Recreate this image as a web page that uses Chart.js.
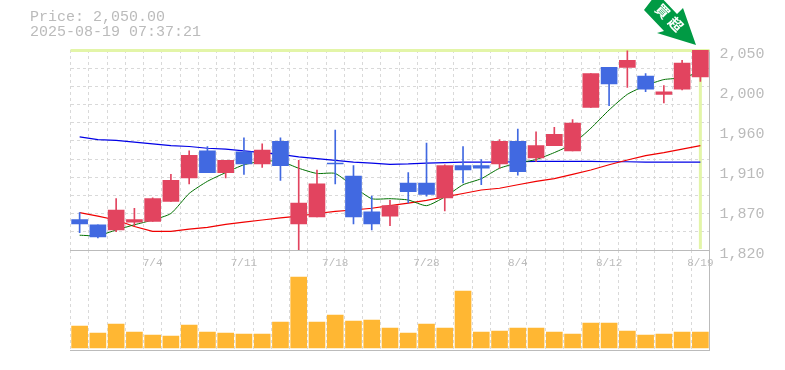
<!DOCTYPE html>
<html>
<head>
<meta charset="utf-8">
<title>Price chart</title>
<script src="https://cdn.jsdelivr.net/npm/chart.js@4"></script>
<style>
  html, body { margin: 0; padding: 0; background: #fff; overflow: hidden; }
  #wrap { position: relative; width: 785px; height: 370px; }
  canvas { position: absolute; left: 0; top: 0; }
  .head { position: absolute; left: 30px; color: #bbb; font: 15px "Liberation Mono", monospace; line-height: 15px; white-space: pre; }
  #arrow { position: absolute; left: 0; top: 0; }
</style>
</head>
<body>
<div id="wrap">
  <canvas id="volChart" width="785" height="370"></canvas>
  <canvas id="priceChart" width="785" height="370"></canvas>
  <div class="head" style="top:10px">Price: 2,050.00</div>
  <div class="head" style="top:25px">2025-08-19 07:37:21</div>
  <svg id="arrow" width="785" height="60">
    <polygon points="644,10 657,-7 677,14 683,8 696,45 657,33 664,31" fill="#009a44"></polygon>
    <text transform="translate(659,15) rotate(45)" text-anchor="middle" font-family="Noto Sans CJK JP" font-weight="700" font-size="14" fill="#fff">買</text>
    <text transform="translate(672,28) rotate(45)" text-anchor="middle" font-family="Noto Sans CJK JP" font-weight="700" font-size="14" fill="#fff">超</text>
  </svg>
</div>
<script>
var dates = ["6/30","7/1","7/2","7/3","7/4","7/7","7/8","7/9","7/10","7/11","7/14","7/15","7/16","7/17","7/18",
  "7/22","7/23","7/24","7/25","7/28","7/29","7/30","7/31","8/1","8/4","8/5","8/6","8/7","8/8","8/12","8/13","8/14","8/15","8/18","8/19"];

var opens  = [1855,1849,1843,1852,1853,1876,1903,1934,1909,1933,1919,1945,1850,1858,1920,1905,1864,1859,1897,1897,1880,1917,1917,1919,1945,1926,1940,1934,1984,2030,2030,2020,1999,2005,2019];
var closes = [1850,1835,1866,1855,1879,1900,1929,1909,1923,1919,1935,1917,1874,1896,1919,1858,1850,1871,1887,1884,1917,1912,1914,1945,1910,1940,1953,1966,2023,2011,2038,2005,2002,2035,2050];
var highs  = [1863,1849,1879,1868,1880,1907,1934,1939,1923,1949,1942,1949,1923,1912,1958,1917,1882,1877,1909,1943,1918,1939,1924,1947,1959,1956,1961,1970,2023,2030,2049,2023,2009,2038,2050];
var lows   = [1840,1834,1841,1848,1853,1876,1896,1909,1903,1907,1915,1900,1820,1858,1896,1850,1843,1848,1874,1882,1865,1897,1895,1914,1906,1922,1940,1934,1984,1986,2007,2002,1989,2004,2014];

var maShort = [1837,1836.5,1843,1849,1854.5,1862,1885,1899,1909,1918,1922,1922,1914,1908,1908,1893,1879,1879,1877.5,1871,1881,1895,1902,1914,1920,1924,1932,1942,1960,1981,1999,2009,2016,2018,2025];
var maMid   = [1950,1947,1946,1944,1942,1940,1939,1937,1936,1934,1932,1930,1927,1925,1923,1921,1920,1918.5,1919,1920,1920.5,1921,1921,1921,1921.5,1922,1922,1922,1922,1921.5,1921.5,1921,1921,1921,1921];
var maLong  = [1863,1859,1854.5,1847,1841.5,1841.5,1844,1846,1849.5,1852,1854.5,1857,1859,1862,1864.5,1866,1868,1871,1874,1877,1881,1885,1889,1891,1895,1899,1902,1907,1912,1918,1923.5,1928.5,1932,1936,1940];

var volumes = [22,15,24,16,13,12,23,16,15,14,14,26,71,26,33,27,28,20,15,24,20,57,16,17,20,20,16,14,25,25,17,13,14,16,16];

var priceTicks = [2050,2004,1958,1912,1866,1820];
var priceLabels = ["2,050","2,000","1,960","1,910","1,870","1,820"];
var gridTicks = [2050,2029.1,2008.2,1987.3,1966.4,1945.5,1924.5,1903.6,1882.7,1861.8,1840.9,1820];
var dateEvery = 5;

var lastPrice = 2050;

var UP = "#e2445f";
var DOWN = "#4169e1";
var GRID = "#d9d9d9";
var EDGE = "#bbbbbb";
var TEXT = "#bbbbbb";
var MONO = '"Liberation Mono", monospace';

function candleColors() {
  return closes.map(function (c, i) {
    return c >= opens[i] ? UP : DOWN;
  });
}

function pairs(a, b) {
  return a.map(function (v, i) {
    return [v, b[i]];
  });
}

function lineSet(data, color, width, tension, order) {
  return {
    type: "line",
    data: data,
    borderColor: color,
    borderWidth: width,
    tension: tension,
    pointRadius: 0,
    order: order,
  };
}

// pale yellow marker lines for the latest price and date
var lastMarker = {
  id: "lastMarker",
  beforeDatasetsDraw: function (chart) {
    var ctx = chart.ctx;
    var area = chart.chartArea;
    var y = chart.scales.y.getPixelForValue(lastPrice);
    var x = chart.scales.x.getPixelForValue(dates.length - 1);
    ctx.save();
    ctx.strokeStyle = "#e3f5a8";
    ctx.lineWidth = 3;
    ctx.beginPath();
    ctx.moveTo(area.left, y + 0.5);
    ctx.lineTo(area.right, y + 0.5);
    ctx.moveTo(x, y);
    ctx.lineTo(x, area.bottom - 1);
    ctx.stroke();
    ctx.restore();
  },
};

function fixedWidth(w) {
  return function (s) { s.width = w; };
}

function fixedHeight(h) {
  return function (s) { s.height = h; };
}

new Chart(document.getElementById("priceChart"), {
  type: "bar",
  plugins: [lastMarker],
  data: {
    labels: dates,
    datasets: [
      { data: pairs(opens, closes), backgroundColor: candleColors(), barThickness: 16, grouped: false, order: 1 },
      { data: pairs(lows, highs), backgroundColor: candleColors(), barThickness: 1, grouped: false, order: 2 },
      lineSet(maShort, "#007000", 1, 0.2, 3),
      lineSet(maLong, "#f00000", 1.2, 0, 4),
      lineSet(maMid, "#0000e6", 1.2, 0, 5),
    ],
  },
  options: {
    responsive: false,
    animation: false,
    layout: { autoPadding: false, padding: { left: 70.5, right: 0, top: 50, bottom: 100 } },
    plugins: { legend: { display: false }, tooltip: { enabled: false } },
    scales: {
      x: {
        offset: true,
        afterFit: fixedHeight(20),
        grid: { color: GRID, offset: true, drawTicks: false },
        border: { color: EDGE, dash: [3, 3] },
        ticks: {
          color: TEXT,
          font: { family: MONO, size: 11 },
          padding: 6,
          autoSkip: false,
          maxRotation: 0,
          callback: function (v, i) {
            return i % dateEvery === dateEvery - 1 ? dates[i] : "";
          },
        },
      },
      y: {
        position: "right",
        min: 1820,
        max: 2050,
        afterFit: fixedWidth(75.5),
        afterBuildTicks: function (s) {
          s.ticks = priceTicks.map(function (v) { return { value: v }; });
        },
        grid: { display: false, drawTicks: false },
        border: { color: EDGE },
        ticks: {
          color: TEXT,
          font: { family: MONO, size: 15 },
          padding: 10,
          labelOffset: 4,
          callback: function (v) { return priceLabels[priceTicks.indexOf(v)]; },
        },
      },
      yGrid: {
        position: "left",
        min: 1820,
        max: 2050,
        afterFit: fixedWidth(0),
        afterBuildTicks: function (s) {
          s.ticks = gridTicks.map(function (v) { return { value: v }; });
        },
        grid: { color: GRID, drawTicks: false },
        border: { display: false, dash: [3, 3] },
        ticks: { display: false },
      },
    },
  },
});

new Chart(document.getElementById("volChart"), {
  type: "bar",
  data: {
    labels: dates,
    datasets: [
      { data: volumes, backgroundColor: "#ffb733", barThickness: 16 },
    ],
  },
  options: {
    responsive: false,
    animation: false,
    layout: { autoPadding: false, padding: { left: 70.5, right: 0, top: 250, bottom: 20 } },
    plugins: { legend: { display: false }, tooltip: { enabled: false } },
    scales: {
      x: {
        offset: true,
        afterFit: fixedHeight(0),
        grid: { color: GRID, offset: true, drawTicks: false },
        border: { color: EDGE, dash: [3, 3] },
        ticks: { display: false, autoSkip: false },
      },
      y: {
        position: "right",
        min: -2,
        max: 98,
        afterFit: fixedWidth(75.5),
        grid: { display: false, drawTicks: false },
        border: { color: EDGE },
        ticks: { display: false },
      },
    },
  },
});
</script>
</body>
</html>
